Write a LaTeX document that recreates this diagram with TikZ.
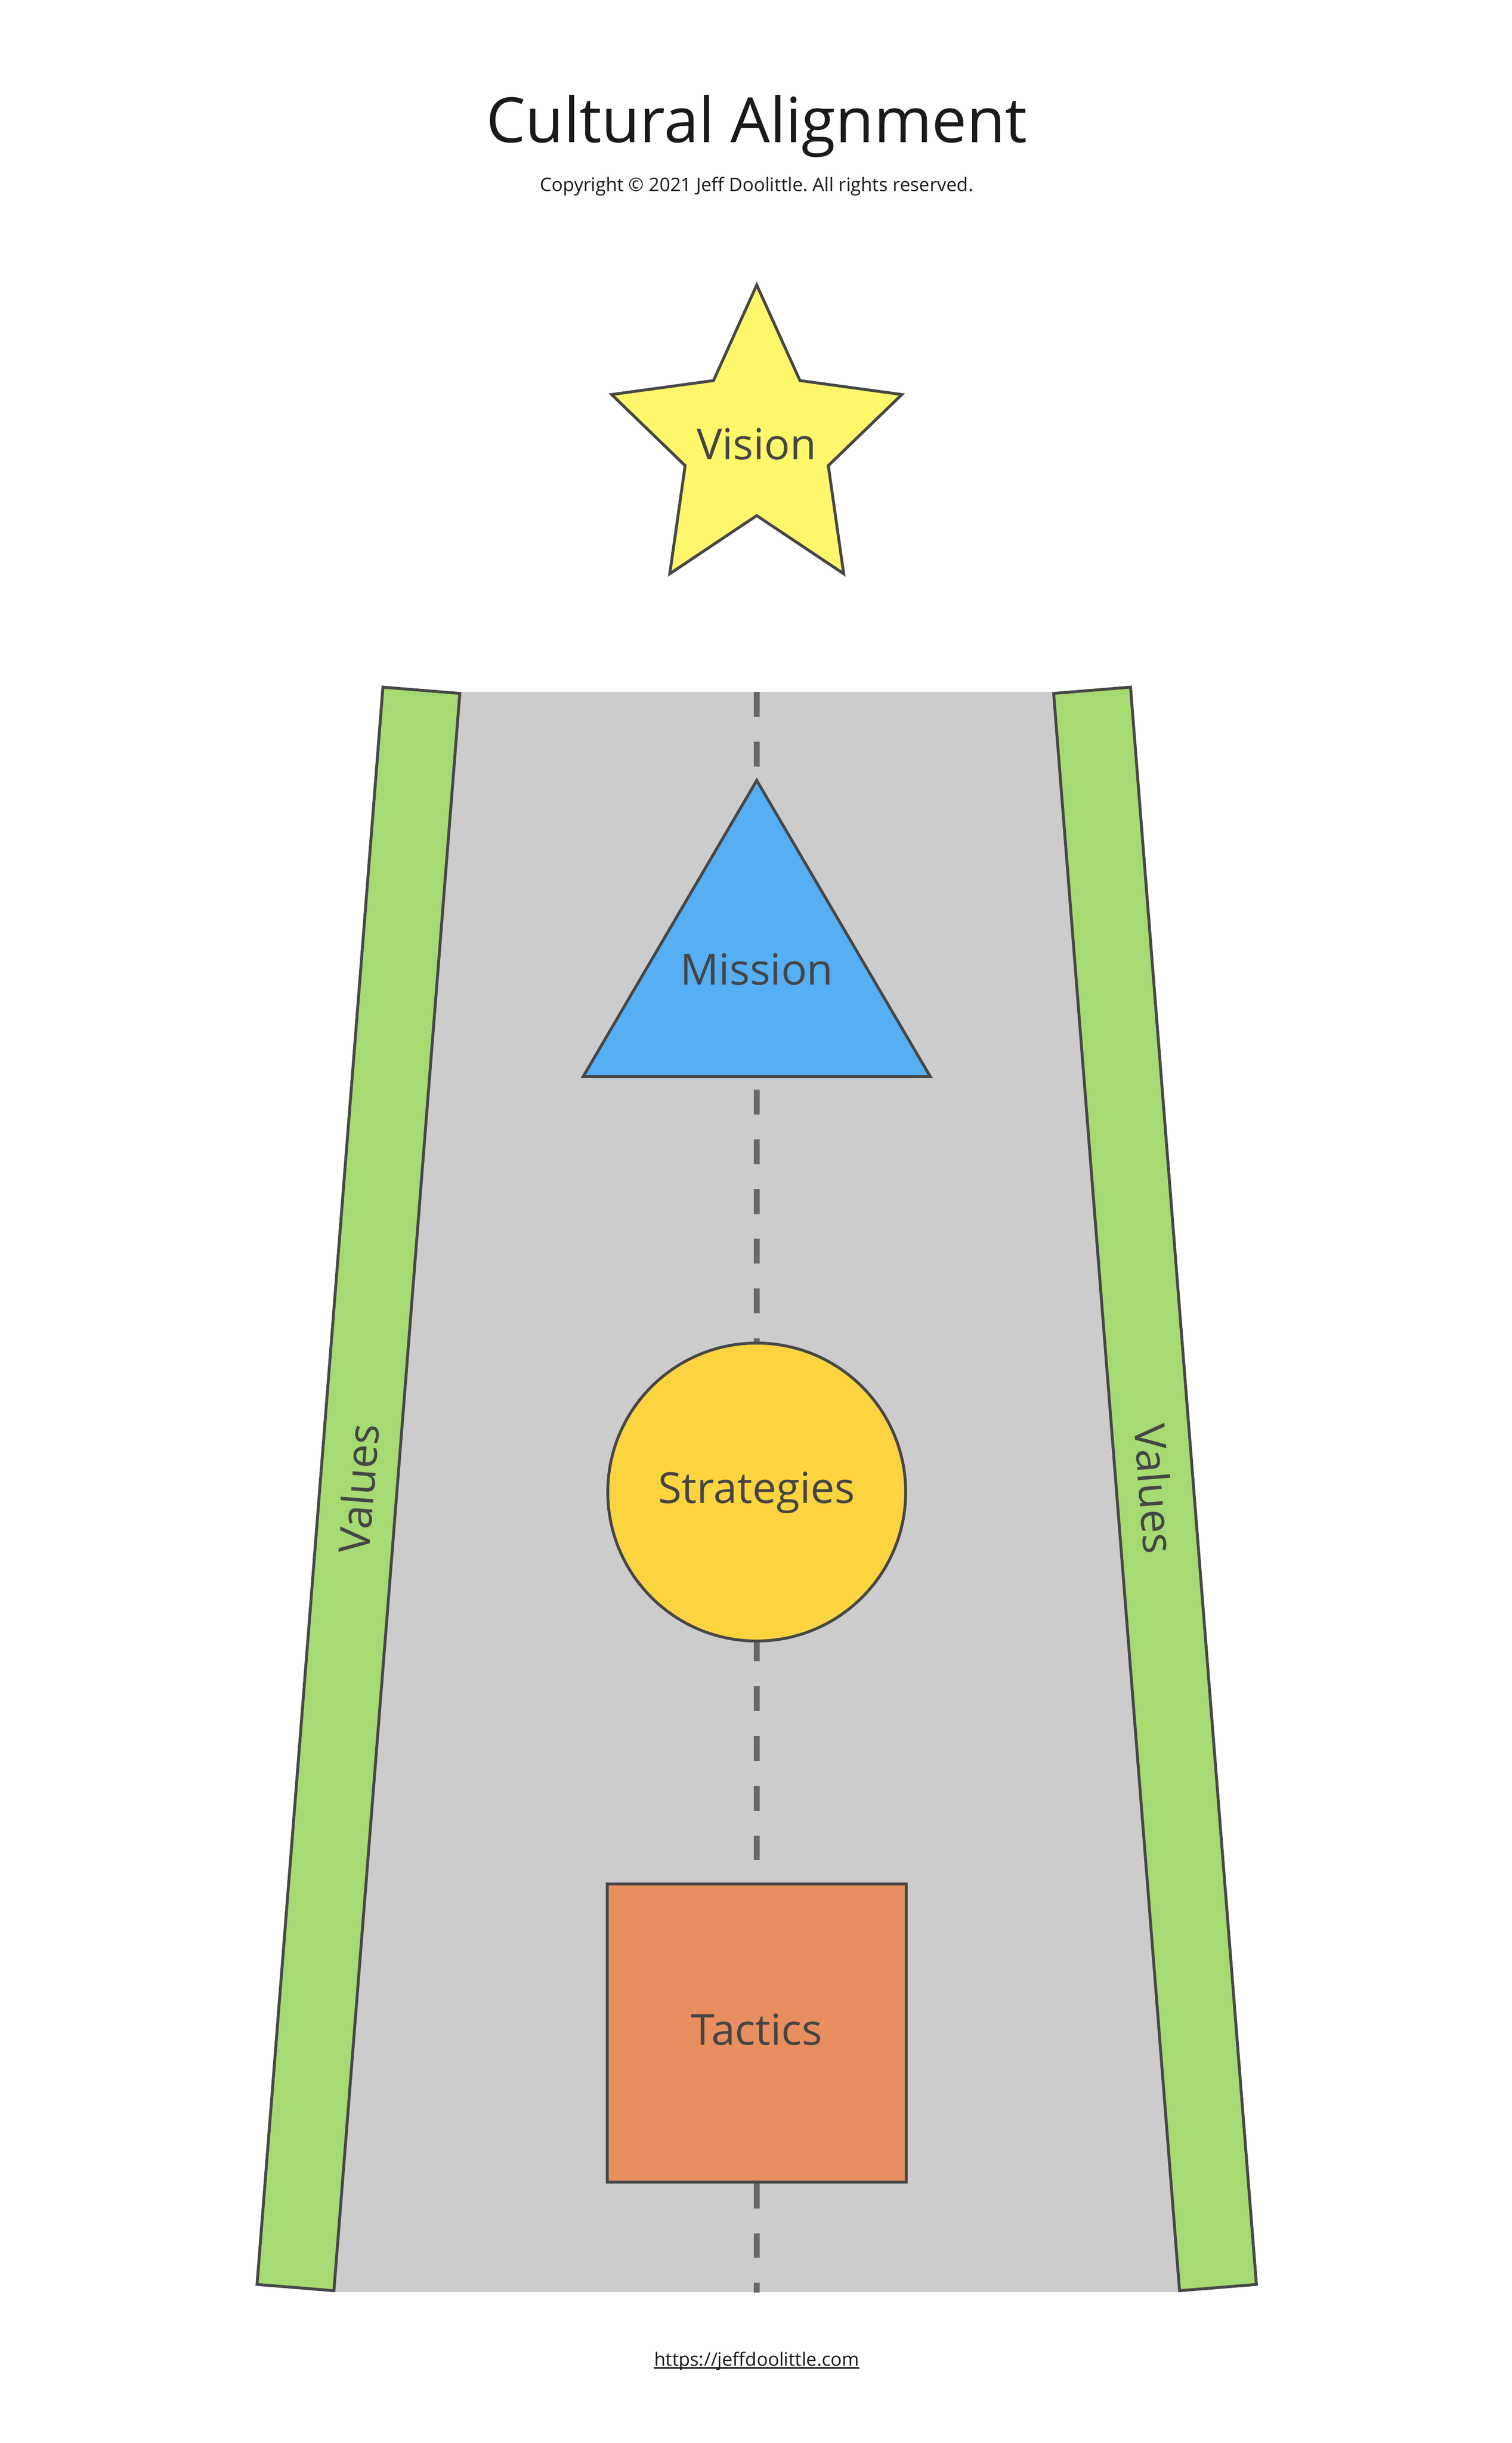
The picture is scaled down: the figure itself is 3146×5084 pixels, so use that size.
\documentclass[tikz,border=0pt]{standalone}
\usepackage{fontspec}
\setmainfont{Open Sans}
\frenchspacing
\usetikzlibrary{positioning}
\definecolor{roadgray}{HTML}{CCCCCC}
\definecolor{dashgray}{HTML}{686868}
\definecolor{linegray}{HTML}{474747}
\definecolor{textgray}{HTML}{454545}
\definecolor{titleblack}{HTML}{1A1A1A}
\definecolor{valuesgreen}{HTML}{A6DA72}
\definecolor{visionyellow}{HTML}{FFF76B}
\definecolor{missionblue}{HTML}{56AEF3}
\definecolor{strategyyellow}{HTML}{FCD440}
\definecolor{tacticsorange}{HTML}{E98E5E}

\begin{document}
\begin{tikzpicture}[x=0.01cm, y=-0.01cm,
    outline/.style={draw=linegray, line width=1.7pt},
    shapetext/.style={text=textgray, font=\fontsize{25.3}{30}\selectfont, inner sep=0pt, anchor=base},
    smalltext/.style={text=titleblack, font=\fontsize{11}{13}\selectfont, inner sep=0pt, anchor=base}]
    % Define page
    \useasboundingbox (0,0) rectangle (3146,5084);
    \fill[white] (0,0) rectangle (3146,5084);

    % Define titles
    \node[text=titleblack, font=\fontsize{36.9}{44}\selectfont, inner sep=0pt, anchor=base] (title) at (1575,296) {Cultural Alignment};
    \node[smalltext] (copyright) at (1575,398) {Copyright © 2021 Jeff Doolittle. All rights reserved.};

    % Draw road
    \fill[roadgray] (880,1440) -- (2270,1440) -- (2457,4770) -- (693,4770) -- cycle;
    \coordinate (roadtop) at (1575,1440);
    \coordinate (roadbottom) at (1575,4771);
    \draw[dashgray, line width=3.6pt, dash pattern=on 0.517cm off 0.517cm] (roadtop) -- (roadbottom);

    % Draw values strips
    \filldraw[outline, fill=valuesgreen] (797,1430) -- (957,1443) -- (695,4767) -- (535,4754) -- cycle;
    \filldraw[outline, fill=valuesgreen] (2353,1430) -- (2193,1443) -- (2455,4767) -- (2615,4754) -- cycle;
    \node[shapetext, anchor=center, rotate=85.5] (valuesleft) at (746,3098) {Values};
    \node[shapetext, anchor=center, rotate=-85.5] (valuesright) at (2404,3098) {Values};

    % Draw vision star
    \filldraw[outline, fill=visionyellow, shift={(1575,923)}] (0,-330) -- (90,-131) -- (302,-102) -- (149,46) -- (181,271) -- (0,150) -- (-181,271) -- (-149,46) -- (-302,-102) -- (-90,-131) -- cycle;
    \node[shapetext] (vision) at (1575,956) {Vision};

    % Draw mission triangle
    \filldraw[outline, fill=missionblue] (1575,1624) -- (1936,2240) -- (1214,2240) -- cycle;
    \node[shapetext] (mission) at (1575,2049) {Mission};

    % Draw strategies circle
    \filldraw[outline, fill=strategyyellow] (1575,3105) circle[radius=310];
    \node[shapetext] (strategies) at (1575,3128) {Strategies};

    % Draw tactics square
    \filldraw[outline, fill=tacticsorange] (1264,3921) rectangle (1886,4541);
    \node[shapetext] (tactics) at (1575,4256) {Tactics};

    % Define link
    \node[smalltext] (link) at (1575,4924) {https://jeffdoolittle.com};
    \draw[titleblack, line width=0.9pt] ([yshift=-1.1pt]link.base west) -- ([yshift=-1.1pt]link.base east);
\end{tikzpicture}
\end{document}
